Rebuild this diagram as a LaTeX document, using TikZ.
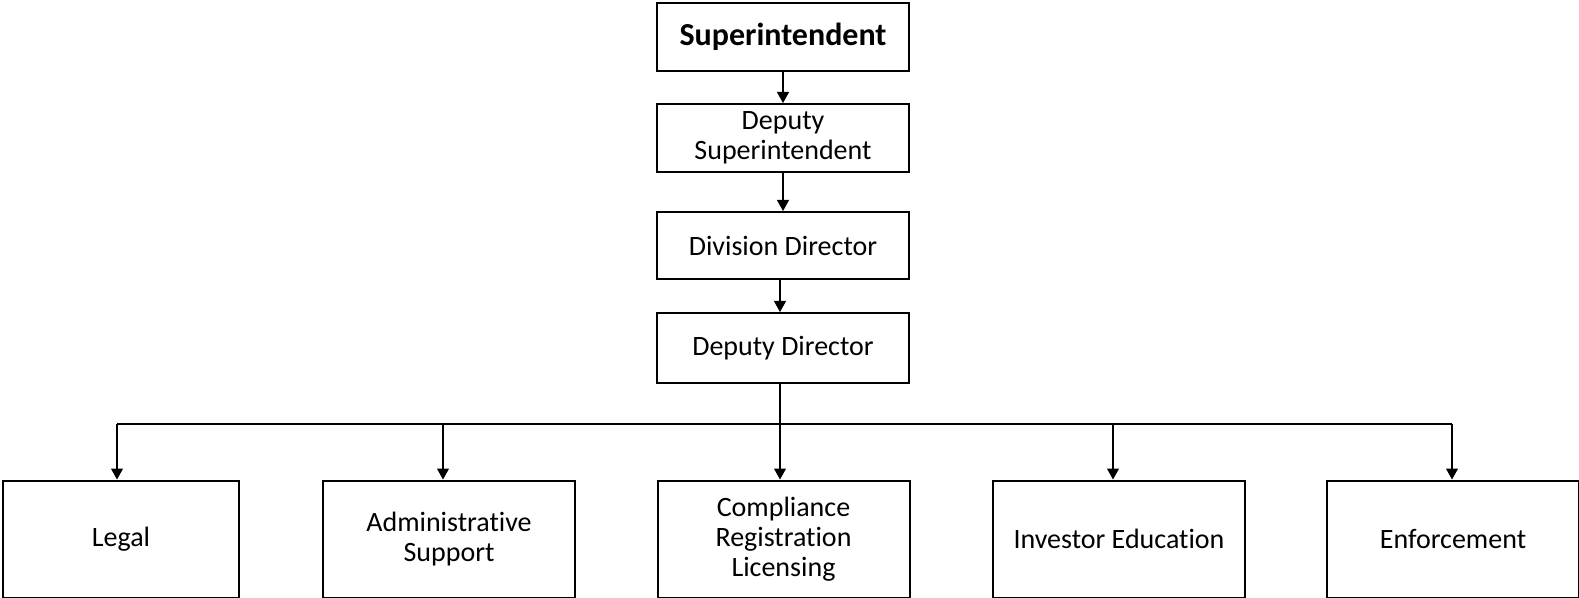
\documentclass[tikz,border=0pt]{standalone}
\usepackage{fontspec}
\setmainfont[Ligatures=NoCommon]{Carlito}
\usetikzlibrary{arrows.meta}

\begin{document}
\begin{tikzpicture}[x=0.5pt,y=-0.5pt,
		box/.style={draw=black, line width=1pt, align=center, inner sep=0pt,
			font=\fontsize{14}{15}\selectfont},
		topbox/.style={box, minimum width=126pt, minimum height=34pt},
		unitbox/.style={box, minimum width=126pt, minimum height=58.5pt},
		link/.style={draw=black, line width=0.6pt, -{Triangle[width=6pt,length=5.5pt]}}]
		\useasboundingbox (0,0) rectangle (1579,598);
		% chain of command
		\node[topbox, font=\fontsize{16}{18}\selectfont\bfseries] (super) at (783,37) {Superintendent};
		\node[topbox] (depsup) at (783,138) {Deputy\\Superintendent};
		\node[topbox, minimum height=33.5pt] (divdir) at (783,245.5) {Division Director};
		\node[topbox, minimum height=35pt] (depdir) at (783,348) {Deputy Director};
		% units
		\node[unitbox, minimum width=118pt] (legal) at (121,539) {Legal};
		\node[unitbox] (admin) at (449,539) {Administrative\\Support};
		\node[unitbox] (comp) at (783.5,539) {Compliance\\Registration\\Licensing};
		\node[unitbox] (invest) at (1119,539) {Investor Education};
		\node[unitbox] (enforce) at (1453,539) {Enforcement};
		% connectors
		\draw[link] (super) -- (depsup);
		\draw[link] (depsup) -- (divdir);
		\coordinate (bus) at (780,424);
		\draw[link] (bus |- divdir.south) -- (bus |- depdir.north);
		\draw[line width=1.4pt] (bus |- depdir.south) -- (bus);
		\draw[line width=0.6pt] ([xshift=-2pt]bus -| legal.north) -- ([xshift=-0.5pt]bus -| enforce.north);
		\draw[link] ([xshift=-2pt]bus -| legal.north) -- ([xshift=-2pt]legal.north);
		\draw[link] ([xshift=-3pt]bus -| admin.north) -- ([xshift=-3pt]admin.north);
		\draw[link] (bus) -- (bus |- comp.north);
		\draw[link] ([xshift=-3pt]bus -| invest.north) -- ([xshift=-3pt]invest.north);
		\draw[link] ([xshift=-0.5pt]bus -| enforce.north) -- ([xshift=-0.5pt]enforce.north);
	\end{tikzpicture}
\end{document}
